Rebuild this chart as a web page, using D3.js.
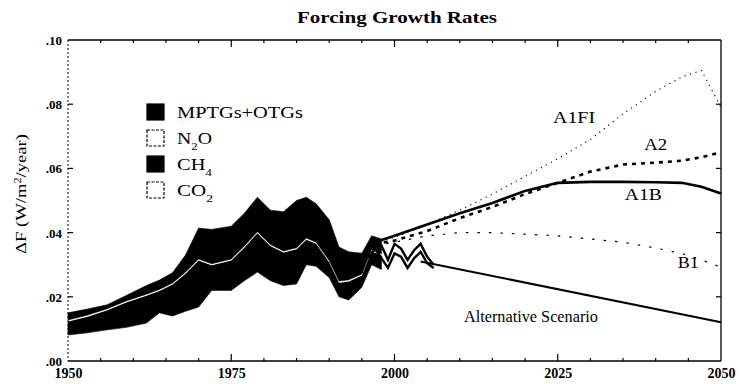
<!DOCTYPE html>
<html>
<head>
<meta charset="utf-8">
<script src="https://cdn.jsdelivr.net/npm/d3@7"></script>
<style>
  html, body { margin: 0; padding: 0; background: #fff; }
  svg { display: block; }
  text { font-family: "Liberation Serif", "DejaVu Serif", serif; fill: #000; }
</style>
</head>
<body>
<svg id="chart" width="740" height="384"></svg>
<script>
// Historical forcing growth rates (W/m²/year), stacked from the bottom up
const histYears = [1950, 1953, 1956, 1959, 1962, 1964, 1966, 1968, 1970, 1972, 1975, 1977,
                   1979, 1981, 1983, 1985, 1986.5, 1988, 1990, 1991.5, 1993, 1995, 1996.5, 1998];
const co2  = [0.0081, 0.0088, 0.0097, 0.0105, 0.0118, 0.0150, 0.0140, 0.0155, 0.0168, 0.0220, 0.0220, 0.0250,
              0.0277, 0.0250, 0.0235, 0.0240, 0.0300, 0.0295, 0.0260, 0.0200, 0.0190, 0.0230, 0.0300, 0.0285];
const ch4  = [0.0042, 0.0050, 0.0061, 0.0078, 0.0085, 0.0068, 0.0098, 0.0117, 0.0145, 0.0078, 0.0093, 0.0103,
              0.0121, 0.0108, 0.0103, 0.0108, 0.0078, 0.0070, 0.0048, 0.0044, 0.0058, 0.0036, 0.0043, 0.0043];
const n2o  = [0.0005, 0.0005, 0.0005, 0.0005, 0.0005, 0.0005, 0.0005, 0.0005, 0.0005, 0.0005, 0.0005, 0.0005,
              0.0005, 0.0005, 0.0005, 0.0005, 0.0005, 0.0005, 0.0005, 0.0005, 0.0005, 0.0005, 0.0005, 0.0005];
const mptg = [0.0022, 0.0019, 0.0012, 0.0017, 0.0027, 0.0029, 0.0032, 0.0053, 0.0096, 0.0107, 0.0102, 0.0102,
              0.0107, 0.0107, 0.0122, 0.0147, 0.0127, 0.0120, 0.0127, 0.0106, 0.0087, 0.0065, 0.0042, 0.0047];

// Recent observed totals
const obsYears = [1996, 1997, 1998, 1999, 2000, 2001, 2002, 2003, 2004, 2005, 2006];
const obsHigh  = [0.0345, 0.0375, 0.0360, 0.0315, 0.0365, 0.0350, 0.0315, 0.0345, 0.0365, 0.0325, 0.0300];
const obsLow   = [0.0320, 0.0350, 0.0320, 0.0290, 0.0335, 0.0325, 0.0290, 0.0320, 0.0340, 0.0305, 0.0290];

// Scenario projections
const scenYears = [1997, 2000, 2005, 2010, 2015, 2020, 2025, 2030, 2035, 2040, 2044, 2047, 2050];
const a1fi = [0.0370, 0.0385, 0.0425, 0.0470, 0.0520, 0.0575, 0.0630, 0.0690, 0.0770, 0.0840, 0.0885, 0.0905, 0.0790];
const a2   = [0.0365, 0.0375, 0.0405, 0.0445, 0.0480, 0.0520, 0.0555, 0.0590, 0.0612, 0.0618, 0.0624, 0.0635, 0.0650];
const a1b  = [0.0370, 0.0390, 0.0425, 0.0460, 0.0492, 0.0530, 0.0555, 0.0558, 0.0558, 0.0557, 0.0555, 0.0543, 0.0522];
const b1   = [0.0360, 0.0370, 0.0390, 0.0400, 0.0400, 0.0395, 0.0390, 0.0380, 0.0370, 0.0352, 0.0335, 0.0315, 0.0292];
const altYears = [2004, 2050];
const alt      = [0.0310, 0.0121];

const xTicks = [1950, 1975, 2000, 2025, 2050];
const yTicks = [0, 0.02, 0.04, 0.06, 0.08, 0.10];
const yTickLabels = [".00", ".02", ".04", ".06", ".08", ".10"];

const legendItems = [
  { name: "MPTGs+OTGs", sub: null, fill: "#000", width: 126 },
  { name: "N", sub: "2", tail: "O", fill: "#fff", width: 35 },
  { name: "CH", sub: "4", tail: "", fill: "#000", width: 35 },
  { name: "CO", sub: "2", tail: "", fill: "#fff", width: 36 }
];

const scenarioLabels = [
  { text: "A1FI", year: 2027.5, value: 0.0741, width: 42 },
  { text: "A2", year: 2040.0, value: 0.0657, width: 23 },
  { text: "A1B", year: 2038.1, value: 0.0502, width: 37 },
  { text: "B1", year: 2045.0, value: 0.0290, width: 21 },
  { text: "Alternative Scenario", year: 2020.9, value: 0.0122, width: 134 }
];

const svg = d3.select("#chart");
const pLeft = 68, pRight = 721, pTop = 40, pBottom = 361;

const x = d3.scaleLinear().domain([1950, 2050]).range([pLeft, pRight]);
const y = d3.scaleLinear().domain([0, 0.10]).range([pBottom, pTop]);

// Title
svg.append("text")
  .attr("x", 397).attr("y", 23)
  .attr("text-anchor", "middle")
  .attr("font-size", 16).attr("font-weight", "bold")
  .attr("textLength", 200).attr("lengthAdjust", "spacingAndGlyphs")
  .text("Forcing Growth Rates");

// Stacked historical areas
const rows = histYears.map((yr, i) => ({ year: yr, co2: co2[i], ch4: ch4[i], n2o: n2o[i], mptg: mptg[i] }));
const keys = ["co2", "ch4", "n2o", "mptg"];
const fills = { co2: "#fff", ch4: "#000", n2o: "#fff", mptg: "#000" };
const stacked = d3.stack().keys(keys)(rows);
const area = d3.area()
  .x(d => x(d.data.year))
  .y0(d => y(d[0]))
  .y1(d => y(d[1]));
svg.append("g").selectAll("path")
  .data(stacked)
  .join("path")
  .attr("d", area)
  .attr("fill", d => fills[d.key])
  .attr("stroke", d => fills[d.key] === "#000" ? "#000" : "none")
  .attr("stroke-width", 0.6);

const line = (xs, ys) => d3.line()
  .x((d, i) => x(xs[i]))
  .y(d => y(d))(ys);

// Observed recent totals
svg.append("path").attr("d", line(obsYears, obsHigh))
  .attr("fill", "none").attr("stroke", "#000").attr("stroke-width", 2.4);
svg.append("path").attr("d", line(obsYears, obsLow))
  .attr("fill", "none").attr("stroke", "#000").attr("stroke-width", 2.4);

// Scenario curves
const scenarios = [
  { ys: a1fi, xs: scenYears, width: 1.1, dash: "1.2,4.5" },
  { ys: a2,   xs: scenYears, width: 2.6, dash: "4,5" },
  { ys: a1b,  xs: scenYears, width: 2.6, dash: null },
  { ys: b1,   xs: scenYears, width: 1.2, dash: "2.5,9" },
  { ys: alt,  xs: altYears,  width: 2.0, dash: null }
];
scenarios.forEach(s => {
  svg.append("path").attr("d", line(s.xs, s.ys))
    .attr("fill", "none").attr("stroke", "#000")
    .attr("stroke-width", s.width)
    .attr("stroke-dasharray", s.dash);
});

scenarioLabels.forEach(l => {
  svg.append("text")
    .attr("x", x(l.year)).attr("y", y(l.value))
    .attr("text-anchor", "middle")
    .attr("font-size", 16)
    .attr("textLength", l.width).attr("lengthAdjust", "spacingAndGlyphs")
    .text(l.text);
});

// Frame
svg.append("line").attr("x1", pLeft).attr("x2", pRight).attr("y1", pTop).attr("y2", pTop)
  .attr("stroke", "#000").attr("stroke-width", 1.4);
svg.append("line").attr("x1", pRight).attr("x2", pRight).attr("y1", pTop).attr("y2", pBottom)
  .attr("stroke", "#000").attr("stroke-width", 1.3);
svg.append("line").attr("x1", pLeft).attr("x2", pRight).attr("y1", pBottom).attr("y2", pBottom)
  .attr("stroke", "#000").attr("stroke-width", 1.4);
svg.append("line").attr("x1", pLeft).attr("x2", pLeft).attr("y1", pTop).attr("y2", pBottom)
  .attr("stroke", "#000").attr("stroke-width", 1).attr("stroke-dasharray", "2,2");

// Axes
const minorX = d3.range(1955, 2050, 5).filter(v => v % 25 !== 0);
const xAxisBottom = d3.axisBottom(x).tickValues(xTicks).tickSize(0).tickFormat(d3.format("d"));
const gx = svg.append("g").attr("transform", `translate(0,${pBottom})`).call(xAxisBottom);
gx.select(".domain").remove();
gx.selectAll("text").attr("dy", 0).attr("y", 17)
  .attr("font-size", 14).attr("font-weight", "bold")
  .attr("font-family", "Liberation Serif, DejaVu Serif, serif");

// inward tick marks on all four sides
const tickG = svg.append("g").attr("stroke", "#000").attr("stroke-width", 1.2);
xTicks.slice(1, -1).forEach(v => {
  tickG.append("line").attr("x1", x(v)).attr("x2", x(v)).attr("y1", pBottom).attr("y2", pBottom - 7);
  tickG.append("line").attr("x1", x(v)).attr("x2", x(v)).attr("y1", pTop).attr("y2", pTop + 7);
});
minorX.forEach(v => {
  tickG.append("line").attr("x1", x(v)).attr("x2", x(v)).attr("y1", pBottom).attr("y2", pBottom - 3);
  tickG.append("line").attr("x1", x(v)).attr("x2", x(v)).attr("y1", pTop).attr("y2", pTop + 3);
});
yTicks.slice(1, -1).forEach(v => {
  tickG.append("line").attr("x1", pLeft).attr("x2", pLeft + 5).attr("y1", y(v)).attr("y2", y(v));
  tickG.append("line").attr("x1", pRight).attr("x2", pRight - 5).attr("y1", y(v)).attr("y2", y(v));
});

const yAxis = d3.axisLeft(y).tickValues(yTicks).tickSize(0)
  .tickFormat((d, i) => yTickLabels[i]);
const gy = svg.append("g").attr("transform", `translate(${pLeft},0)`).call(yAxis);
gy.select(".domain").remove();
gy.selectAll("text").attr("x", -6).attr("dy", "0.35em")
  .attr("font-size", 13).attr("font-weight", "bold")
  .attr("font-family", "Liberation Serif, DejaVu Serif, serif");

// Y axis title
const yt = svg.append("text")
  .attr("transform", "translate(26,194) rotate(-90)")
  .attr("text-anchor", "middle")
  .attr("font-size", 15)
  .attr("textLength", 120).attr("lengthAdjust", "spacingAndGlyphs");
yt.append("tspan").text("ΔF (W/m");
yt.append("tspan").attr("baseline-shift", "super").attr("font-size", 10).text("2");
yt.append("tspan").text("/year)");

// Legend
const lg = svg.append("g").attr("transform", "translate(147,104)");
legendItems.forEach((it, i) => {
  const row = lg.append("g").attr("transform", `translate(0,${i * 26})`);
  row.append("rect").attr("width", 17).attr("height", 16)
    .attr("fill", it.fill).attr("stroke", "#000").attr("stroke-width", 1.2)
    .attr("stroke-dasharray", it.fill === "#fff" ? "3,1.5" : null);
  const t = row.append("text").attr("x", 30).attr("y", 14).attr("font-size", 17)
    .attr("textLength", it.width).attr("lengthAdjust", "spacingAndGlyphs");
  t.append("tspan").text(it.name);
  if (it.sub) {
    t.append("tspan").attr("baseline-shift", "sub").attr("font-size", 11).text(it.sub);
    if (it.tail) t.append("tspan").text(it.tail);
  }
});
</script>
</body>
</html>
